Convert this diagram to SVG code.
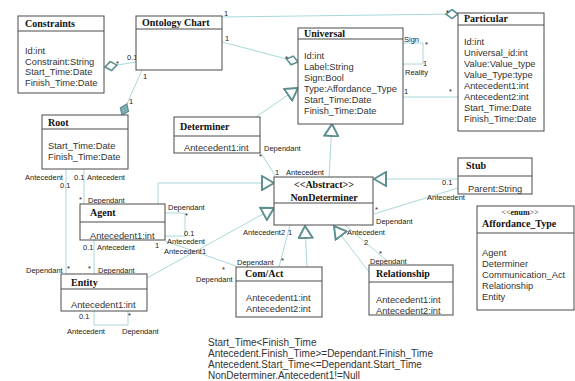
<svg xmlns="http://www.w3.org/2000/svg" width="575" height="381" viewBox="0 0 575 381">
<style>
.box{fill:#fff;stroke:#4a4a4a;stroke-width:1}
.hd{stroke:#4a4a4a;stroke-width:1}
.t{font-family:"Liberation Serif",serif;font-weight:bold;font-size:10px;fill:#111}
.s{font-family:"Liberation Serif",serif;font-size:8px;fill:#111}
.a{font-family:"Liberation Sans",Arial,sans-serif;font-size:9.3px;fill:#333}
.l{font-family:"Liberation Sans",Arial,sans-serif;font-size:7.5px;fill:#222}
.n{font-family:"Liberation Sans",Arial,sans-serif;font-size:10px;fill:#333}
.c{fill:none;stroke:#a8d8dc;stroke-width:1}
</style>
<defs>
<marker id="gen" markerUnits="userSpaceOnUse" markerWidth="14" markerHeight="16" refX="12" refY="7" orient="auto" viewBox="-1 -1 14 16">
<path d="M0,0 L12,7 L0,14 Z" fill="#fff" stroke="#5f9090" stroke-width="2" stroke-linejoin="miter"/>
</marker>
<marker id="agg" markerUnits="userSpaceOnUse" markerWidth="14" markerHeight="11" refX="12" refY="4.5" orient="auto" viewBox="-1 -1 14 11">
<path d="M0,4.5 L6,0 L12,4.5 L6,9 Z" fill="#fff" stroke="#5f9090" stroke-width="1.6"/>
</marker>
<marker id="comp" markerUnits="userSpaceOnUse" markerWidth="14" markerHeight="11" refX="12" refY="4.5" orient="auto" viewBox="-1 -1 14 11">
<path d="M0,4.5 L6,0 L12,4.5 L6,9 Z" fill="#7fb0b2" stroke="#5f9090" stroke-width="1.2"/>
</marker>
</defs>
<rect width="575" height="381" fill="#fff"/>

<g id="connectors">
<line class="c" x1="136" y1="62" x2="105" y2="67" marker-end="url(#agg)"/>
<line class="c" x1="142" y1="70" x2="122" y2="115" marker-end="url(#comp)"/>
<line class="c" x1="222" y1="42" x2="298" y2="62" marker-end="url(#agg)"/>
<line class="c" x1="222" y1="17" x2="458" y2="14" marker-end="url(#agg)"/>
<polyline class="c" points="403,43 423,43 423,64 403,64"/>
<line class="c" x1="403" y1="97" x2="458" y2="97"/>
<line class="c" x1="256" y1="117" x2="298" y2="88" marker-end="url(#gen)"/>
<line class="c" x1="329" y1="177" x2="332" y2="124" marker-end="url(#gen)"/>
<line class="c" x1="259" y1="150" x2="276" y2="177"/>
<line class="c" x1="458" y1="179" x2="374" y2="179" marker-end="url(#gen)"/>
<line class="c" x1="458" y1="188" x2="374" y2="214"/>
<polyline class="c" points="158,204 158,183 274,183" marker-end="url(#gen)"/>
<line class="c" x1="147" y1="278" x2="274" y2="208" marker-end="url(#gen)"/>
<line class="c" x1="307" y1="267" x2="305" y2="226" marker-end="url(#gen)"/>
<line class="c" x1="369" y1="272" x2="334" y2="226" marker-end="url(#gen)"/>
<line class="c" x1="290" y1="225" x2="279" y2="267"/>
<line class="c" x1="345" y1="225" x2="392" y2="265"/>
<line class="c" x1="66" y1="169" x2="66" y2="274"/>
<line class="c" x1="84" y1="169" x2="84" y2="204"/>
<polyline class="c" points="165,213 185,213 185,236 165,236"/>
<line class="c" x1="165" y1="241" x2="236" y2="266"/>
<line class="c" x1="94" y1="240" x2="94" y2="274"/>
<polyline class="c" points="94,311 94,325 128,325 128,311"/>

<text class="l" x="116" y="66">*</text>
<text class="l" x="127" y="60">0.1</text>
<text class="l" x="143" y="79">1</text>
<text class="l" x="129" y="104">1</text>
<text class="l" x="224" y="16">1</text>
<text class="l" x="225" y="41">1</text>
<text class="l" x="285" y="61">*</text>
<text class="l" x="446" y="15">*</text>
<text class="l" x="404" y="42">Sign</text>
<text class="l" x="425" y="47">*</text>
<text class="l" x="423" y="66">1</text>
<text class="l" x="405" y="75">Reality</text>
<text class="l" x="404" y="94">1</text>
<text class="l" x="449" y="94">*</text>
<text class="l" x="264" y="151">Dependant</text>
<text class="l" x="259" y="159">*</text>
<text class="l" x="275" y="175">1</text>
<text class="l" x="286" y="175">Antecedent</text>
<text class="l" x="442" y="185">0.1</text>
<text class="l" x="427" y="200">Antecedent</text>
<text class="l" x="375" y="212">*</text>
<text class="l" x="376" y="224">Dependant</text>
<text class="l" x="243" y="235">Antecedent2</text>
<text class="l" x="288" y="235">1</text>
<text class="l" x="347" y="235">Antecedent</text>
<text class="l" x="364" y="245">2</text>
<text class="l" x="281" y="263">*</text>
<text class="l" x="237" y="265">Dependant</text>
<text class="l" x="222" y="272">*</text>
<text class="l" x="196" y="282">Dependant</text>
<text class="l" x="379" y="256">*</text>
<text class="l" x="370" y="264">Dependant</text>
<text class="l" x="25" y="180">Antecedent</text>
<text class="l" x="60" y="188">0.1</text>
<text class="l" x="74" y="180">0.1</text>
<text class="l" x="87" y="180">Antecedent</text>
<text class="l" x="79" y="202">*</text>
<text class="l" x="88" y="203">Dependant</text>
<text class="l" x="168" y="210">Dependant</text>
<text class="l" x="185" y="218">*</text>
<text class="l" x="184" y="236">0.1</text>
<text class="l" x="167" y="244">Antecedent</text>
<text class="l" x="164" y="254">Antecedent1</text>
<text class="l" x="155" y="248">1</text>
<text class="l" x="83" y="250">0.1</text>
<text class="l" x="97" y="250">Antecedent</text>
<text class="l" x="26" y="273">Dependant</text>
<text class="l" x="67" y="271">*</text>
<text class="l" x="88" y="271">*</text>
<text class="l" x="98" y="273">Dependant</text>
<text class="l" x="79" y="319">0.1</text>
<text class="l" x="128" y="318">*</text>
<text class="l" x="67" y="334">Antecedent</text>
<text class="l" x="122" y="334">Dependant</text>
</g>

<g id="constraints">
<rect class="box" x="18" y="16" width="86" height="77"/>
<line class="hd" x1="18" y1="31" x2="104" y2="31"/>
<text class="t" x="25" y="27">Constraints</text>
<text class="a" x="25" y="54">Id:int</text>
<text class="a" x="25" y="65">Constraint:String</text>
<text class="a" x="25" y="75">Start_Time:Date</text>
<text class="a" x="25" y="86">Finish_Time:Date</text>
</g>

<g id="ontology-chart">
<rect class="box" x="136" y="16" width="86" height="54"/>
<line class="hd" x1="136" y1="29" x2="222" y2="29"/>
<text class="t" x="142" y="26">Ontology Chart</text>
</g>

<g id="root">
<rect class="box" x="42" y="115" width="86" height="54"/>
<line class="hd" x1="42" y1="129" x2="128" y2="129"/>
<text class="t" x="48" y="126">Root</text>
<text class="a" x="48" y="149">Start_Time:Date</text>
<text class="a" x="48" y="160">Finish_Time:Date</text>
</g>

<g id="universal">
<rect class="box" x="298" y="28" width="105" height="96"/>
<line class="hd" x1="298" y1="39" x2="403" y2="39"/>
<text class="t" x="304" y="37">Universal</text>
<text class="a" x="304" y="59">Id:int</text>
<text class="a" x="304" y="70">Label:String</text>
<text class="a" x="304" y="81">Sign:Bool</text>
<text class="a" x="304" y="92">Type:Affordance_Type</text>
<text class="a" x="304" y="103">Start_Time:Date</text>
<text class="a" x="304" y="114">Finish_Time:Date</text>
</g>

<g id="particular">
<rect class="box" x="458" y="13" width="86" height="118"/>
<line class="hd" x1="458" y1="25" x2="544" y2="25"/>
<text class="t" x="464" y="22">Particular</text>
<text class="a" x="464" y="45">Id:int</text>
<text class="a" x="464" y="56">Universal_id:int</text>
<text class="a" x="464" y="67">Value:Value_type</text>
<text class="a" x="464" y="78">Value_Type:type</text>
<text class="a" x="464" y="89">Antecedent1:int</text>
<text class="a" x="464" y="100">Antecedent2:int</text>
<text class="a" x="464" y="111">Start_Time:Date</text>
<text class="a" x="464" y="122">Finish_Time:Date</text>
</g>

<g id="determiner">
<rect class="box" x="174" y="117" width="86" height="36"/>
<line class="hd" x1="174" y1="136" x2="260" y2="136"/>
<text class="t" x="180" y="130">Determiner</text>
<text class="a" x="184" y="151">Antecedent1:int</text>
</g>

<g id="nondeterminer">
<rect class="box" x="274" y="177" width="99" height="48"/>
<line class="hd" x1="274" y1="203" x2="373" y2="203"/>
<text class="t" x="324" y="188" text-anchor="middle">&lt;&lt;Abstract&gt;&gt;</text>
<text class="t" x="324" y="201" text-anchor="middle">NonDeterminer</text>
</g>

<g id="stub">
<rect class="box" x="458" y="158" width="74" height="36"/>
<line class="hd" x1="458" y1="176" x2="532" y2="176"/>
<text class="t" x="466" y="169">Stub</text>
<text class="a" x="468" y="192">Parent:String</text>
</g>

<g id="affordance-type">
<rect class="box" x="477" y="206" width="97" height="104"/>
<line class="hd" x1="477" y1="233" x2="574" y2="233"/>
<text class="s" x="520" y="215" text-anchor="middle">&lt;&lt;<tspan font-weight="bold">enum</tspan>&gt;&gt;</text>
<text class="t" x="482" y="227">Affordance_Type</text>
<text class="a" x="482" y="256">Agent</text>
<text class="a" x="482" y="267">Determiner</text>
<text class="a" x="482" y="278">Communication_Act</text>
<text class="a" x="482" y="289">Relationship</text>
<text class="a" x="482" y="300">Entity</text>
</g>

<g id="agent">
<rect class="box" x="80" y="204" width="85" height="36"/>
<line class="hd" x1="80" y1="222" x2="165" y2="222"/>
<text class="t" x="90" y="216">Agent</text>
<text class="a" x="90" y="239">Antecedent1:int</text>
</g>

<g id="entity">
<rect class="box" x="61" y="274" width="86" height="37"/>
<line class="hd" x1="61" y1="289" x2="147" y2="289"/>
<text class="t" x="71" y="286">Entity</text>
<text class="a" x="71" y="308">Antecedent1:int</text>
</g>

<g id="com-act">
<rect class="box" x="236" y="267" width="86" height="50"/>
<line class="hd" x1="236" y1="281" x2="322" y2="281"/>
<text class="t" x="245" y="277">Com/Act</text>
<text class="a" x="246" y="301">Antecedent1:int</text>
<text class="a" x="246" y="312">Antecedent2:int</text>
</g>

<g id="relationship">
<rect class="box" x="369" y="265" width="84" height="50"/>
<line class="hd" x1="369" y1="282" x2="453" y2="282"/>
<text class="t" x="376" y="277">Relationship</text>
<text class="a" x="376" y="303">Antecedent1:int</text>
<text class="a" x="376" y="314">Antecedent2:int</text>
</g>

<g id="constraint-notes">
<text class="n" x="208" y="346">Start_Time&lt;Finish_Time</text>
<text class="n" x="208" y="357">Antecedent.Finish_Time&gt;=Dependant.Finish_Time</text>
<text class="n" x="208" y="368">Antecedent.Start_Time&lt;=Dependant.Start_Time</text>
<text class="n" x="208" y="379">NonDeterminer.Antecedent1!=Null</text>
</g>
</svg>
